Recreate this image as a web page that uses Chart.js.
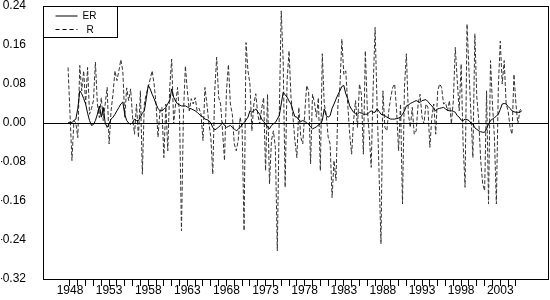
<!DOCTYPE html>
<html>
<head>
<meta charset="utf-8">
<script src="https://cdn.jsdelivr.net/npm/chart.js@4"></script>
<style>
  body { margin: 0; background: #fff; }
  #wrap { width: 550px; height: 300px; }
</style>
</head>
<body>
<div id="wrap"><canvas id="chart" width="550" height="300"></canvas></div>
<script>
// quarterly observations, first one is 1947Q4
const firstPeriod = 1947.75;

const erValues = [
  0.0, 0.002, 0.001, 0.005, 0.008, 0.03, 0.066, 0.06, 0.05, 0.039, 0.02, 0.005,
  -0.005, -0.003, 0.005, 0.018, 0.035, 0.012, 0.032, 0.0, -0.009, -0.002, 0.008, 0.012,
  0.018, 0.025, 0.032, 0.039, 0.043, 0.018, 0.005, 0.0, -0.003, 0.001, 0.008, 0.005,
  0.005, 0.012, 0.02, 0.025, 0.05, 0.077, 0.07, 0.059, 0.05, 0.039, 0.03, 0.025,
  0.025, 0.028, 0.032, 0.04, 0.046, 0.07, 0.053, 0.045, 0.039, 0.037, 0.035, 0.035,
  0.035, 0.033, 0.03, 0.029, 0.027, 0.025, 0.022, 0.018, 0.015, 0.012, 0.008, 0.007,
  0.005, 0.0, -0.009, -0.014, -0.012, -0.008, -0.005, 0.001, -0.005, -0.009, -0.007, -0.005,
  -0.009, -0.012, -0.016, -0.013, -0.009, -0.004, 0.001, 0.006, 0.012, 0.025, 0.022, 0.025,
  0.029, 0.023, 0.018, 0.008, 0.003, -0.002, -0.008, -0.012, -0.005, -0.002, 0.001, 0.008,
  0.015, 0.039, 0.063, 0.058, 0.053, 0.045, 0.039, 0.025, 0.013, 0.012, 0.006, 0.003,
  0.005, 0.003, 0.001, -0.003, -0.008, -0.012, -0.01, -0.008, -0.004, -0.002, 0.005, 0.029,
  0.015, 0.012, 0.015, 0.03, 0.039, 0.049, 0.058, 0.066, 0.075, 0.077, 0.06, 0.05,
  0.035, 0.028, 0.022, 0.019, 0.018, 0.022, 0.02, 0.018, 0.018, 0.018, 0.022, 0.025,
  0.022, 0.022, 0.029, 0.024, 0.018, 0.017, 0.015, 0.012, 0.01, 0.008, 0.008, 0.008,
  0.009, 0.01, 0.012, 0.018, 0.025, 0.035, 0.037, 0.04, 0.042, 0.044, 0.046, 0.044,
  0.042, 0.046, 0.047, 0.048, 0.044, 0.039, 0.035, 0.03, 0.025, 0.029, 0.03, 0.031,
  0.032, 0.029, 0.026, 0.025, 0.025, 0.024, 0.022, 0.015, 0.012, 0.006, 0.005, 0.008,
  0.007, 0.005, 0.0, -0.002, -0.01, -0.013, -0.016, -0.018, -0.019, -0.019, -0.012, -0.002,
  0.005, 0.008, 0.011, 0.014, 0.018, 0.028, 0.039, 0.04, 0.039, 0.034, 0.03, 0.025,
  0.023, 0.022, 0.022, 0.022, 0.025
];

const rValues = [
  0.114, 0.02, -0.077, 0.005, 0.0, -0.03, 0.118, 0.066, 0.107, 0.039, 0.114, 0.018,
  0.03, 0.046, 0.125, 0.039, 0.011, 0.052, 0.005, 0.039, 0.073, -0.043, 0.025, 0.06,
  0.107, 0.087, 0.107, 0.13, 0.107, 0.012, 0.072, 0.046, 0.07, 0.012, -0.023, 0.039,
  -0.03, 0.066, -0.105, 0.039, 0.06, 0.073, 0.09, 0.107, 0.08, 0.039, -0.029, 0.025,
  0.032, -0.071, 0.039, -0.057, 0.073, 0.131, -0.002, 0.039, 0.073, 0.018, -0.221, 0.018,
  0.117, 0.066, 0.025, 0.05, 0.039, 0.052, 0.025, 0.03, 0.018, -0.036, 0.073, 0.039,
  0.0, -0.029, -0.105, 0.066, 0.135, 0.053, 0.039, -0.016, -0.077, 0.066, 0.12, 0.039,
  0.018, -0.043, -0.057, -0.036, 0.012, -0.01, -0.221, 0.165, 0.107, 0.08, -0.016, 0.039,
  0.06, 0.018, -0.002, 0.03, 0.052, -0.098, 0.059, -0.125, -0.036, -0.016, -0.05, -0.262,
  0.018, 0.23, 0.128, -0.132, 0.087, 0.148, 0.053, 0.012, -0.036, -0.071, 0.032, -0.029,
  -0.043, 0.018, 0.077, 0.066, -0.084, 0.059, 0.042, 0.012, 0.052, -0.098, 0.142, 0.039,
  0.018, -0.029, -0.043, -0.153, -0.077, -0.118, 0.039, 0.073, 0.172, 0.10, 0.107, 0.039,
  -0.023, -0.064, 0.005, 0.046, -0.009, 0.08, 0.059, -0.064, 0.148, 0.03, -0.023, -0.091,
  0.073, 0.196, 0.039, -0.098, -0.248, 0.066, -0.009, -0.016, 0.025, 0.053, 0.073, 0.08,
  0.025, -0.057, 0.039, -0.166, 0.073, 0.142, 0.018, -0.009, 0.032, -0.023, -0.016, 0.039,
  0.059, 0.012, -0.002, 0.039, 0.032, -0.05, 0.012, 0.039, -0.023, 0.066, 0.08, 0.073,
  0.039, 0.042, 0.025, 0.046, -0.002, 0.046, 0.155, 0.087, 0.025, 0.121, -0.043, -0.132,
  0.203, 0.107, 0.018, -0.071, 0.183, 0.053, 0.005, -0.077, -0.125, -0.139, 0.066, -0.166,
  0.128, 0.039, -0.029, -0.166, 0.073, 0.168, 0.08, 0.128, 0.039, 0.025, -0.009, -0.023,
  0.10, 0.039, -0.002, 0.025, 0.032
];

const yearTicks = [];
for (let y = 1948; y <= 2005; y++) yearTicks.push(y);
const yearLabels = [1948, 1953, 1958, 1963, 1968, 1973, 1978, 1983, 1988, 1993, 1998, 2003];
const valueTicks = [-0.32, -0.24, -0.16, -0.08, 0.00, 0.08, 0.16, 0.24];

function toPoints(values) {
  return values.map((v, i) => ({ x: firstPeriod + i * 0.25, y: v }));
}

const FONT = 'Arial, "Liberation Sans", sans-serif';

// box round the plot, zero line and the small legend in the corner
const framePlugin = {
  id: 'frame',
  afterDatasetsDraw(chart) {
    const { ctx, chartArea: a, scales } = chart;
    ctx.save();
    ctx.strokeStyle = '#000';
    ctx.lineWidth = 1;
    const y0 = Math.round(scales.y.getPixelForValue(0)) + 0.5;
    ctx.beginPath();
    ctx.moveTo(a.left, y0);
    ctx.lineTo(a.right, y0);
    ctx.stroke();
    ctx.strokeRect(Math.round(a.left) + 0.5, Math.round(a.top) + 0.5,
                   Math.round(a.right - a.left), Math.round(a.bottom - a.top));

    // legend
    const lx = Math.round(a.left) + 0.5, ly = Math.round(a.top) + 0.5;
    ctx.fillStyle = '#fff';
    ctx.fillRect(lx, ly, 74, 31);
    ctx.strokeRect(lx, ly, 74, 31);
    ctx.beginPath();
    ctx.moveTo(lx + 12, ly + 9.5);
    ctx.lineTo(lx + 34, ly + 9.5);
    ctx.stroke();
    ctx.setLineDash([4, 3]);
    ctx.beginPath();
    ctx.moveTo(lx + 12, ly + 23);
    ctx.lineTo(lx + 34, ly + 23);
    ctx.stroke();
    ctx.setLineDash([]);
    ctx.fillStyle = '#000';
    ctx.font = '10px ' + FONT;
    ctx.textBaseline = 'middle';
    ctx.fillText('ER', lx + 39, ly + 10);
    ctx.fillText('R', lx + 43, ly + 23.5);
    ctx.restore();
  }
};

new Chart(document.getElementById('chart').getContext('2d'), {
  type: 'line',
  data: {
    datasets: [
      {
        label: 'ER',
        data: toPoints(erValues),
        borderColor: '#000',
        borderWidth: 1,
        pointRadius: 0,
        tension: 0
      },
      {
        label: 'R',
        data: toPoints(rValues),
        borderColor: '#333',
        borderWidth: 1,
        borderDash: [4, 2],
        pointRadius: 0,
        tension: 0
      }
    ]
  },
  options: {
    responsive: false,
    animation: false,
    layout: { padding: { left: 1, right: 2, top: 6, bottom: 0 } },
    plugins: { legend: { display: false }, tooltip: { enabled: false } },
    scales: {
      x: {
        type: 'linear',
        min: 1944.55,
        max: 2009.1,
        afterBuildTicks: (scale) => { scale.ticks = yearTicks.map(v => ({ value: v })); },
        afterFit: (scale) => {
          scale.height = 21;
          scale.paddingLeft = 0;
          scale.paddingRight = 0;
        },
        ticks: {
          autoSkip: false,
          maxRotation: 0,
          padding: -3,
          color: '#000',
          font: { family: FONT, size: 12 },
          callback: (v) => yearLabels.includes(v) ? String(v) : ''
        },
        grid: { drawOnChartArea: false, drawTicks: true, tickLength: 7, color: '#000' },
        border: { display: true, color: '#000' }
      },
      y: {
        min: -0.32,
        max: 0.24,
        afterBuildTicks: (scale) => { scale.ticks = valueTicks.map(v => ({ value: v })); },
        afterFit: (scale) => {
          scale.width = 42;
          scale.paddingTop = 0;
          scale.paddingBottom = 0;
        },
        ticks: {
          padding: 17,
          color: '#000',
          font: { family: FONT, size: 12 },
          callback: (v) => v.toFixed(2)
        },
        grid: { drawOnChartArea: false, drawTicks: false },
        border: { display: true, color: '#000' }
      }
    }
  },
  plugins: [framePlugin]
});
</script>
</body>
</html>
